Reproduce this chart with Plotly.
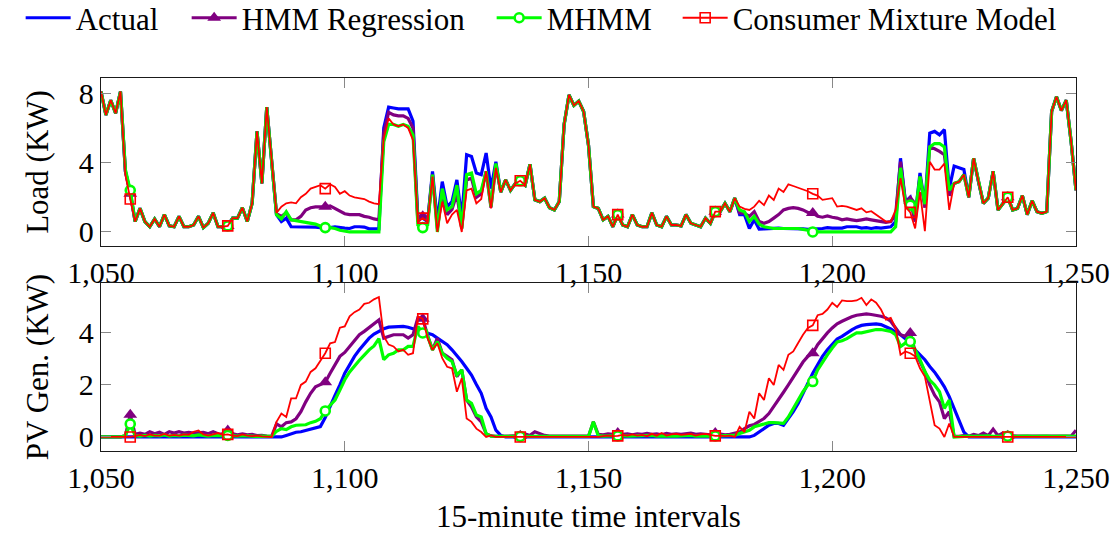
import plotly.graph_objects as go

intervals = list(range(1050, 1251))

load_actual = [
    8.1, 6.75, 7.6, 6.85, 8.1, 3.5, 2.3, 0.6, 1.36, 0.6,
    0.3, 0.75, 0.3, 1.0, 0.35, 0.3, 0.9, 0.3, 0.3, 0.4,
    0.9, 0.25, 0.5, 1.1, 0.3, 0.3, 0.35, 0.8, 0.8, 1.4,
    0.6, 1.65, 5.8, 2.8, 7.2, 4.25, 1.0, 0.6, 0.8, 0.3,
    0.3, 0.3, 0.3, 0.3, 0.28, 0.25, 0.25, 0.25, 0.3, 0.25,
    0.22, 0.2, 0.3, 0.3, 0.28, 0.18, 0.18, 0.18, 6.0, 7.2,
    7.15, 7.1, 7.1, 7.1, 6.4, 0.8, 0.8, 0.6, 3.5, 0.6,
    2.9, 1.46, 1.75, 3.0, 0.8, 4.45, 4.35, 3.4, 3.3, 4.55,
    2.5, 4.05, 2.3, 3.0, 2.4, 2.8, 2.95, 2.7, 3.9, 1.85,
    1.75, 1.95, 1.4, 1.27, 1.75, 6.2, 7.9, 7.3, 7.55, 6.95,
    5.0, 1.46, 1.36, 0.7, 0.9, 0.3, 1.0, 0.4, 0.3, 1.0,
    0.4, 0.3, 0.3, 1.1, 0.4, 0.3, 0.9, 0.4, 0.4, 0.35,
    1.0, 0.5, 0.4, 0.3, 0.8, 0.5, 1.17, 1.17, 1.65, 1.17,
    1.95, 1.0, 1.0, 0.2, 0.7, 0.17, 0.18, 0.2, 0.2, 0.22,
    0.2, 0.2, 0.2, 0.2, 0.18, 0.15, 0.15, 0.18, 0.2, 0.25,
    0.22, 0.2, 0.22, 0.3, 0.28, 0.3, 0.22, 0.25, 0.2, 0.25,
    0.22, 0.25, 0.3, 0.6, 4.25, 1.75, 2.0, 0.9, 3.4, 1.55,
    5.7, 5.8, 5.6, 5.9, 2.5, 3.8, 3.7, 3.6, 2.0, 4.25,
    2.9, 1.65, 1.95, 3.5, 1.27, 1.65, 2.0, 1.27, 1.36, 2.1,
    1.0, 1.8, 1.17, 1.08, 1.17, 6.95, 7.8, 7.0, 7.6, 5.2,
    2.4,
]

load_hmm = [
    8.1, 6.75, 7.6, 6.85, 8.1, 3.5, 2.2, 0.6, 1.36, 0.6,
    0.3, 0.75, 0.3, 1.0, 0.35, 0.3, 0.9, 0.3, 0.3, 0.4,
    0.9, 0.25, 0.5, 1.1, 0.3, 0.3, 0.35, 0.8, 0.8, 1.4,
    0.6, 1.65, 5.8, 2.8, 7.2, 4.25, 1.05, 0.9, 1.1, 0.7,
    0.7, 0.9, 1.27, 1.4, 1.45, 1.45, 1.45, 1.5, 1.36, 1.17,
    1.05, 1.0, 1.0, 1.0, 0.9, 0.85, 0.75, 0.7, 5.7, 6.9,
    6.75, 6.7, 6.7, 6.55, 6.0, 0.6, 0.9, 0.6, 3.3, 0.2,
    2.3, 1.0, 1.3, 2.2, 0.2, 3.0, 3.1, 2.0, 2.2, 3.5,
    1.4, 3.85, 2.3, 3.0, 2.4, 2.8, 2.95, 2.7, 3.9, 1.85,
    1.75, 1.95, 1.4, 1.27, 1.75, 6.2, 7.9, 7.3, 7.55, 6.95,
    5.0, 1.46, 1.36, 0.7, 0.9, 0.3, 1.0, 0.4, 0.3, 1.0,
    0.4, 0.3, 0.3, 1.1, 0.4, 0.3, 0.9, 0.4, 0.4, 0.35,
    1.0, 0.5, 0.4, 0.3, 0.8, 0.5, 1.17, 1.17, 1.65, 1.17,
    1.95, 1.1, 1.08, 0.9, 1.17, 0.6, 0.5, 0.6, 0.8, 1.0,
    1.27, 1.36, 1.4, 1.36, 1.27, 1.13, 1.1, 0.9, 0.85, 0.92,
    0.85, 0.8, 0.7, 0.75, 0.7, 0.65, 0.7, 0.75, 0.7, 0.65,
    0.6, 0.55, 0.6, 1.0, 4.05, 1.75, 1.8, 0.6, 3.2, 1.4,
    4.9, 4.8, 4.65, 4.45, 2.1, 2.8, 2.9, 3.3, 2.0, 4.25,
    2.9, 1.65, 1.95, 3.5, 1.27, 1.65, 2.0, 1.27, 1.36, 2.1,
    1.0, 1.8, 1.17, 1.08, 1.17, 6.95, 7.8, 7.0, 7.6, 5.2,
    2.4,
]

load_mhmm = [
    8.1, 6.75, 7.6, 6.85, 8.1, 3.6, 2.4, 0.6, 1.36, 0.6,
    0.3, 0.75, 0.3, 1.0, 0.35, 0.3, 0.9, 0.3, 0.3, 0.4,
    0.9, 0.25, 0.5, 1.1, 0.3, 0.3, 0.35, 0.8, 0.8, 1.4,
    0.6, 1.65, 5.8, 2.8, 7.2, 4.25, 1.0, 0.75, 1.17, 0.7,
    0.65, 0.6, 0.55, 0.5, 0.45, 0.35, 0.25, 0.25, 0.2, 0.1,
    0.05, 0.0, 0.0, 0.0, 0.0, 0.0, 0.0, 0.0, 5.2, 6.2,
    6.2, 6.1, 6.2, 6.1, 5.6, 0.4, 0.25, 0.4, 3.3, 0.0,
    2.5, 1.27, 1.46, 2.7, 0.2, 3.3, 3.4, 2.2, 2.4, 3.5,
    1.46, 3.95, 2.3, 3.0, 2.4, 2.8, 2.95, 2.7, 3.9, 1.85,
    1.75, 1.95, 1.4, 1.27, 1.75, 6.2, 7.9, 7.3, 7.55, 6.95,
    5.0, 1.46, 1.36, 0.7, 0.9, 0.3, 1.0, 0.4, 0.3, 1.0,
    0.4, 0.3, 0.3, 1.1, 0.4, 0.3, 0.9, 0.4, 0.4, 0.35,
    1.0, 0.5, 0.4, 0.3, 0.8, 0.5, 1.17, 1.17, 1.65, 1.17,
    1.95, 1.27, 1.17, 0.6, 0.9, 0.45, 0.3, 0.25, 0.2, 0.2,
    0.2, 0.2, 0.2, 0.2, 0.15, 0.1, 0.0, 0.0, 0.0, 0.0,
    0.0, 0.0, 0.0, 0.0, 0.0, 0.0, 0.0, 0.0, 0.0, 0.0,
    0.0, 0.0, 0.0, 0.3, 3.7, 1.65, 1.55, 1.0, 3.2, 1.6,
    4.9, 5.1, 5.1, 4.9, 2.4, 2.8, 2.9, 3.3, 2.0, 4.25,
    2.9, 1.65, 1.95, 3.5, 1.27, 1.65, 2.0, 1.27, 1.36, 2.1,
    1.0, 1.8, 1.17, 1.08, 1.17, 6.95, 7.8, 7.0, 7.6, 5.2,
    2.4,
]

load_cmm = [
    8.1, 6.75, 7.6, 6.85, 8.1, 3.3, 1.9, 0.6, 1.36, 0.6,
    0.3, 0.75, 0.3, 1.0, 0.35, 0.3, 0.9, 0.3, 0.3, 0.4,
    0.9, 0.25, 0.5, 1.1, 0.3, 0.3, 0.35, 0.8, 0.8, 1.4,
    0.6, 1.65, 5.8, 2.8, 7.2, 4.25, 1.1, 1.46, 1.65, 1.7,
    1.65, 2.0, 2.2, 2.5, 2.6, 2.7, 2.5, 2.75, 2.6, 2.2,
    2.35, 2.1, 2.0, 1.95, 1.9, 1.75, 1.65, 1.6, 5.4, 6.55,
    6.2, 6.1, 6.2, 6.0, 5.3, 0.6, 0.8, 0.6, 3.2, 0.0,
    1.75, 0.5, 1.0, 1.27, 0.0, 2.4, 2.5, 1.65, 1.9, 3.5,
    1.36, 3.7, 2.3, 3.0, 2.4, 2.8, 2.95, 2.7, 3.9, 1.85,
    1.75, 1.95, 1.4, 1.27, 1.75, 6.2, 7.9, 7.3, 7.55, 6.95,
    5.0, 1.46, 1.36, 0.7, 0.9, 0.3, 1.0, 0.4, 0.3, 1.0,
    0.4, 0.3, 0.3, 1.1, 0.4, 0.3, 0.9, 0.4, 0.4, 0.35,
    1.0, 0.5, 0.4, 0.3, 0.8, 0.5, 1.17, 1.17, 1.65, 1.17,
    1.95, 1.46, 1.33, 1.27, 1.46, 1.8, 1.55, 2.1, 1.85, 2.5,
    2.3, 2.75, 2.65, 2.55, 2.45, 2.35, 2.2, 2.1, 1.85, 1.9,
    1.95, 1.46, 1.5, 1.46, 1.36, 1.27, 1.36, 1.13, 1.2, 1.0,
    0.83, 0.6, 0.6, 1.27, 3.1, 1.46, 1.13, 0.2, 2.3, 0.05,
    4.05, 3.6, 3.6, 3.95, 1.27, 2.8, 2.9, 3.3, 2.0, 4.25,
    2.9, 1.65, 1.95, 3.5, 1.27, 1.65, 2.0, 1.27, 1.36, 2.1,
    1.0, 1.8, 1.17, 1.08, 1.17, 6.95, 7.8, 7.0, 7.6, 5.2,
    2.4,
]

pv_actual = [
    0, 0, 0, 0, 0, 0, 0, 0, 0, 0,
    0, 0, 0, 0, 0, 0, 0, 0, 0, 0,
    0, 0, 0, 0, 0, 0, 0, 0, 0, 0,
    0, 0, 0, 0, 0, 0, 0, 0, 0.06, 0.13,
    0.18, 0.2, 0.25, 0.3, 0.35, 0.4, 0.75, 1.2, 1.6, 2.0,
    2.45, 2.77, 3.1, 3.35, 3.6, 3.8, 3.96, 4.06, 4.16, 4.22,
    4.24, 4.25, 4.25, 4.22, 4.16, 4.1, 4.06, 4.0, 3.93, 3.8,
    3.67, 3.55, 3.35, 3.13, 2.9, 2.64, 2.38, 2.02, 1.68, 1.1,
    0.77, 0.26, 0.06, 0, 0, 0, 0, 0, 0, 0,
    0, 0, 0, 0, 0, 0, 0, 0, 0, 0,
    0, 0, 0, 0, 0, 0, 0, 0, 0, 0,
    0, 0, 0, 0, 0, 0, 0, 0, 0, 0,
    0, 0, 0, 0, 0, 0, 0, 0, 0, 0,
    0, 0, 0, 0, 0.06, 0.19, 0.32, 0.45, 0.52, 0.52,
    0.45, 0.71, 0.97, 1.29, 1.68, 2.06, 2.45, 2.77, 3.1, 3.35,
    3.57, 3.77, 3.87, 4.0, 4.12, 4.22, 4.29, 4.32, 4.35, 4.35,
    4.32, 4.25, 4.15, 4.03, 3.93, 3.78, 3.61, 3.35, 3.16, 2.97,
    2.71, 2.49, 2.22, 1.93, 1.55, 1.1, 0.71, 0.19, 0, 0,
    0, 0, 0, 0, 0, 0, 0, 0, 0, 0,
    0, 0, 0, 0, 0, 0, 0, 0, 0, 0,
    0,
]

pv_hmm = [
    0, 0, 0, 0, 0, 0.05, 0.85, 0.1, 0.15, 0.1,
    0.2, 0.12, 0.18, 0.1, 0.2, 0.15, 0.2, 0.15, 0.18, 0.15,
    0.15, 0.18, 0.12, 0.2, 0.12, 0.1, 0.25, 0.12, 0.08, 0.12,
    0.08, 0.1, 0.05, 0.06, 0.03, 0.02, 0.5, 0.39, 0.55, 0.58,
    0.7, 0.97, 1.35, 1.68, 1.93, 2.0, 2.1, 2.45, 2.77, 3.1,
    3.25, 3.48, 3.74, 3.93, 4.06, 4.22, 4.38, 4.5, 3.8, 3.87,
    3.93, 3.93, 3.93, 3.8, 3.93, 4.58, 4.55, 3.9, 3.35, 3.8,
    3.22, 3.1, 2.97, 2.32, 2.58, 1.42, 1.16, 0.77, 0.58, 0.13,
    0.04, 0.02, 0.02, 0.02, 0.05, 0.02, 0.05, 0.12, 0.06, 0.2,
    0.12, 0.06, 0.03, 0.03, 0.03, 0.03, 0.03, 0.03, 0.03, 0.03,
    0.03, 0.58, 0.1, 0.08, 0.12, 0.1, 0.15, 0.1, 0.12, 0.08,
    0.12, 0.1, 0.14, 0.1, 0.12, 0.08, 0.14, 0.1, 0.12, 0.1,
    0.12, 0.15, 0.1, 0.12, 0.1, 0.08, 0.15, 0.1, 0.08, 0.1,
    0.13, 0.19, 0.32, 0.43, 0.48, 0.58, 0.71, 0.9, 1.16, 1.42,
    1.72, 2.0, 2.28, 2.58, 2.88, 3.1, 3.22, 3.55, 3.8, 4.0,
    4.19, 4.35, 4.45, 4.55, 4.62, 4.68, 4.71, 4.73, 4.71, 4.68,
    4.64, 4.58, 4.45, 4.19, 3.93, 3.87, 4.0, 3.29, 2.9, 2.51,
    2.0, 1.61, 1.35, 0.71, 0.97, 0.02, 0.02, 0.05, 0.03, 0.1,
    0.05, 0.15, 0.05, 0.3, 0.05, 0.15, 0.05, 0.03, 0.03, 0.03,
    0.03, 0.03, 0.03, 0.03, 0.03, 0.03, 0.03, 0.03, 0.03, 0.03,
    0.26,
]

pv_mhmm = [
    0, 0, 0, 0, 0, 0.05, 0.5, 0.05, 0.03, 0.06,
    0.03, 0.06, 0.04, 0.08, 0.03, 0.06, 0.04, 0.07, 0.05, 0.04,
    0.08, 0.04, 0.03, 0.06, 0.04, 0.05, 0.06, 0.04, 0.03, 0.05,
    0.03, 0.04, 0.02, 0.03, 0.02, 0.02, 0.22, 0.32, 0.28, 0.39,
    0.45, 0.45, 0.47, 0.55, 0.6, 0.7, 1.0, 1.22, 1.42, 1.8,
    2.2, 2.5, 2.75, 2.95, 3.15, 3.35, 3.5, 3.78, 2.97, 3.16,
    3.22, 3.35, 3.35, 3.48, 3.48, 4.25, 4.0, 3.87, 3.35, 3.67,
    3.22, 3.03, 2.9, 2.38, 2.58, 1.42, 1.29, 0.84, 0.77, 0.13,
    0.03, 0.02, 0.02, 0.02, 0.02, 0.02, 0.02, 0.02, 0.02, 0.02,
    0.02, 0.02, 0.02, 0.02, 0.02, 0.02, 0.02, 0.02, 0.02, 0.02,
    0.02, 0.58, 0.05, 0.03, 0.04, 0.03, 0.04, 0.05, 0.03, 0.04,
    0.05, 0.03, 0.04, 0.06, 0.03, 0.04, 0.05, 0.04, 0.03, 0.05,
    0.04, 0.06, 0.03, 0.05, 0.04, 0.03, 0.04, 0.05, 0.03, 0.04,
    0.06, 0.13, 0.19, 0.26, 0.39, 0.45, 0.52, 0.55, 0.55, 0.55,
    0.52, 0.77, 1.1, 1.42, 1.74, 2.0, 2.13, 2.58, 2.9, 3.16,
    3.42, 3.65, 3.7, 3.78, 3.9, 4.0, 4.0, 4.04, 4.09, 4.13,
    4.13, 4.09, 4.06, 3.93, 3.48, 3.61, 3.67, 3.35, 2.97, 2.51,
    2.19, 2.0, 1.74, 1.1, 1.42, 0.0, 0.02, 0.02, 0.03, 0.02,
    0.03, 0.02, 0.04, 0.02, 0.03, 0.02, 0.03, 0.02, 0.03, 0.02,
    0.03, 0.02, 0.03, 0.02, 0.03, 0.02, 0.03, 0.02, 0.03, 0.02,
    0.03,
]

pv_cmm = [
    0, 0, 0, 0, 0, 0, 0, 0.03, 0.08, 0.03,
    0.1, 0.05, 0.05, 0.12, 0.05, 0.08, 0.05, 0.1, 0.08, 0.2,
    0.25, 0.1, 0.05, 0.1, 0.15, 0.08, 0.1, 0.05, 0.03, 0.1,
    0.05, 0.03, 0.05, 0.02, 0.02, 0.0, 0.58, 0.9, 0.77, 1.48,
    1.48, 2.0, 2.13, 2.5, 2.64, 2.93, 3.22, 3.6, 3.65, 4.2,
    4.25, 4.64, 4.8, 4.9, 5.12, 5.16, 5.29, 5.38, 3.87, 3.55,
    3.48, 3.29, 3.35, 3.16, 3.22, 4.64, 4.54, 3.8, 3.35, 3.6,
    3.03, 2.7, 2.64, 1.74, 2.26, 0.71, 0.58, 0.32, 0.19, 0.0,
    0.06, 0, 0, 0, 0, 0, 0, 0, 0, 0,
    0, 0, 0, 0, 0, 0, 0, 0, 0, 0,
    0, 0, 0, 0.03, 0.05, 0.03, 0.04, 0.08, 0.05, 0.1,
    0.05, 0.08, 0.03, 0.12, 0.05, 0.15, 0.05, 0.1, 0.12, 0.08,
    0.1, 0.12, 0.05, 0.1, 0.12, 0.08, 0.04, 0.05, 0.03, 0.05,
    0.0, 0.39, 0.19, 0.97, 0.71, 1.68, 1.42, 2.26, 2.0, 2.77,
    2.58, 3.16, 3.29, 3.61, 3.93, 4.19, 4.29, 4.68, 4.73, 4.9,
    5.16, 5.0, 5.25, 5.22, 5.22, 5.25, 5.35, 5.07, 5.29, 5.16,
    4.9, 4.51, 4.58, 4.19, 3.16, 3.29, 3.22, 3.1, 2.64, 2.32,
    1.42, 0.45, 0.32, 0.0, 0.52, 0, 0, 0, 0, 0,
    0, 0, 0, 0, 0, 0, 0, 0, 0, 0,
    0, 0, 0, 0, 0, 0, 0, 0, 0, 0,
    0,
]

series_names = ["Actual", "HMM Regression", "MHMM", "Consumer Mixture Model"]
x_tick_vals = [1050, 1100, 1150, 1200, 1250]
x_tick_text = ["1,050", "1,100", "1,150", "1,200", "1,250"]
load_ticks = [0, 4, 8]
pv_ticks = [0, 2, 4]

for arr in (load_actual, load_hmm, load_mhmm, load_cmm, pv_actual, pv_hmm, pv_mhmm, pv_cmm):
    assert len(arr) == len(intervals), len(arr)

FONT = "Liberation Serif, DejaVu Serif, Times New Roman, serif"
marker_idx = [i for i, t in enumerate(intervals) if (t - 1056) % 20 == 0]

styles = [
    dict(color="#0000FF", width=3.2, marker=None, lw=106),
    dict(color="#800080", width=3.2,
         marker=dict(symbol="triangle-up", size=12, color="#800080", line=dict(width=0)), lw=245),
    dict(color="#00FF00", width=3.2,
         marker=dict(symbol="circle", size=9, color="white", line=dict(width=2.6, color="#00FF00")), lw=126),
    dict(color="#FF0000", width=1.8,
         marker=dict(symbol="square-open", size=10, color="#FF0000", line=dict(width=1.6, color="#FF0000")), lw=335),
]

fig = go.Figure()
panels = [
    ([load_actual, load_hmm, load_mhmm, load_cmm], "x", "y", True),
    ([pv_actual, pv_hmm, pv_mhmm, pv_cmm], "x2", "y2", False),
]
for data, xa, ya, show in panels:
    for name, vals, st in zip(series_names, data, styles):
        kw = dict(x=intervals, y=vals, name=name, xaxis=xa, yaxis=ya,
                  line=dict(color=st["color"], width=st["width"]),
                  showlegend=show, legendgroup=name, legendwidth=st["lw"],
                  hoverinfo="skip")
        if st["marker"] is None:
            kw["mode"] = "lines"
        else:
            kw["mode"] = "lines+markers"
            kw["marker"] = st["marker"]
            kw["selectedpoints"] = marker_idx
            kw["selected"] = dict(marker=dict(opacity=1))
            kw["unselected"] = dict(marker=dict(opacity=0))
        fig.add_trace(go.Scatter(**kw))

axis_common = dict(
    showline=True, linecolor="#1a1a1a", linewidth=1.3, mirror="ticks",
    ticks="inside", ticklen=10, tickwidth=1, tickcolor="#888888",
    showgrid=False, zeroline=False,
    tickfont=dict(family=FONT, size=30, color="black"),
)

fig.update_layout(
    width=1117, height=535,
    margin=dict(l=101, r=41, t=78, b=84, autoexpand=False),
    paper_bgcolor="white", plot_bgcolor="white",
    font=dict(family=FONT, size=30, color="black"),
    showlegend=True,
    legend=dict(orientation="h", xref="paper", yref="paper",
                x=-0.0824, y=1.233, xanchor="left", yanchor="top",
                itemwidth=45, font=dict(family=FONT, size=31, color="black"),
                bgcolor="rgba(0,0,0,0)", tracegroupgap=0, itemclick=False),
    xaxis=dict(axis_common, domain=[0, 1], anchor="y", range=[1050, 1250],
               tickvals=x_tick_vals, ticktext=x_tick_text),
    yaxis=dict(axis_common, domain=[0.5496, 1], anchor="x", range=[-0.81, 8.88],
               tickvals=load_ticks, ticktext=[str(v) for v in load_ticks],
               title=dict(text="Load (KW)", font=dict(family=FONT, size=31), standoff=20)),
    xaxis2=dict(axis_common, domain=[0, 1], anchor="y2", range=[1050, 1250],
                tickvals=x_tick_vals, ticktext=x_tick_text,
                title=dict(text="15-minute time intervals", font=dict(family=FONT, size=31), standoff=12)),
    yaxis2=dict(axis_common, domain=[0, 0.4504], anchor="x2", range=[-0.54, 5.92],
                tickvals=pv_ticks, ticktext=[str(v) for v in pv_ticks],
                title=dict(text="PV Gen. (KW)", font=dict(family=FONT, size=31), standoff=20)),
)

# Remove the default 8px page margin so the figure sits at the window's top-left corner,
# and hide the interactive mode bar so it cannot cover the legend.
fig.write_html("out.html", config={"displayModeBar": False},
               post_script="document.body.style.margin='0px';")
